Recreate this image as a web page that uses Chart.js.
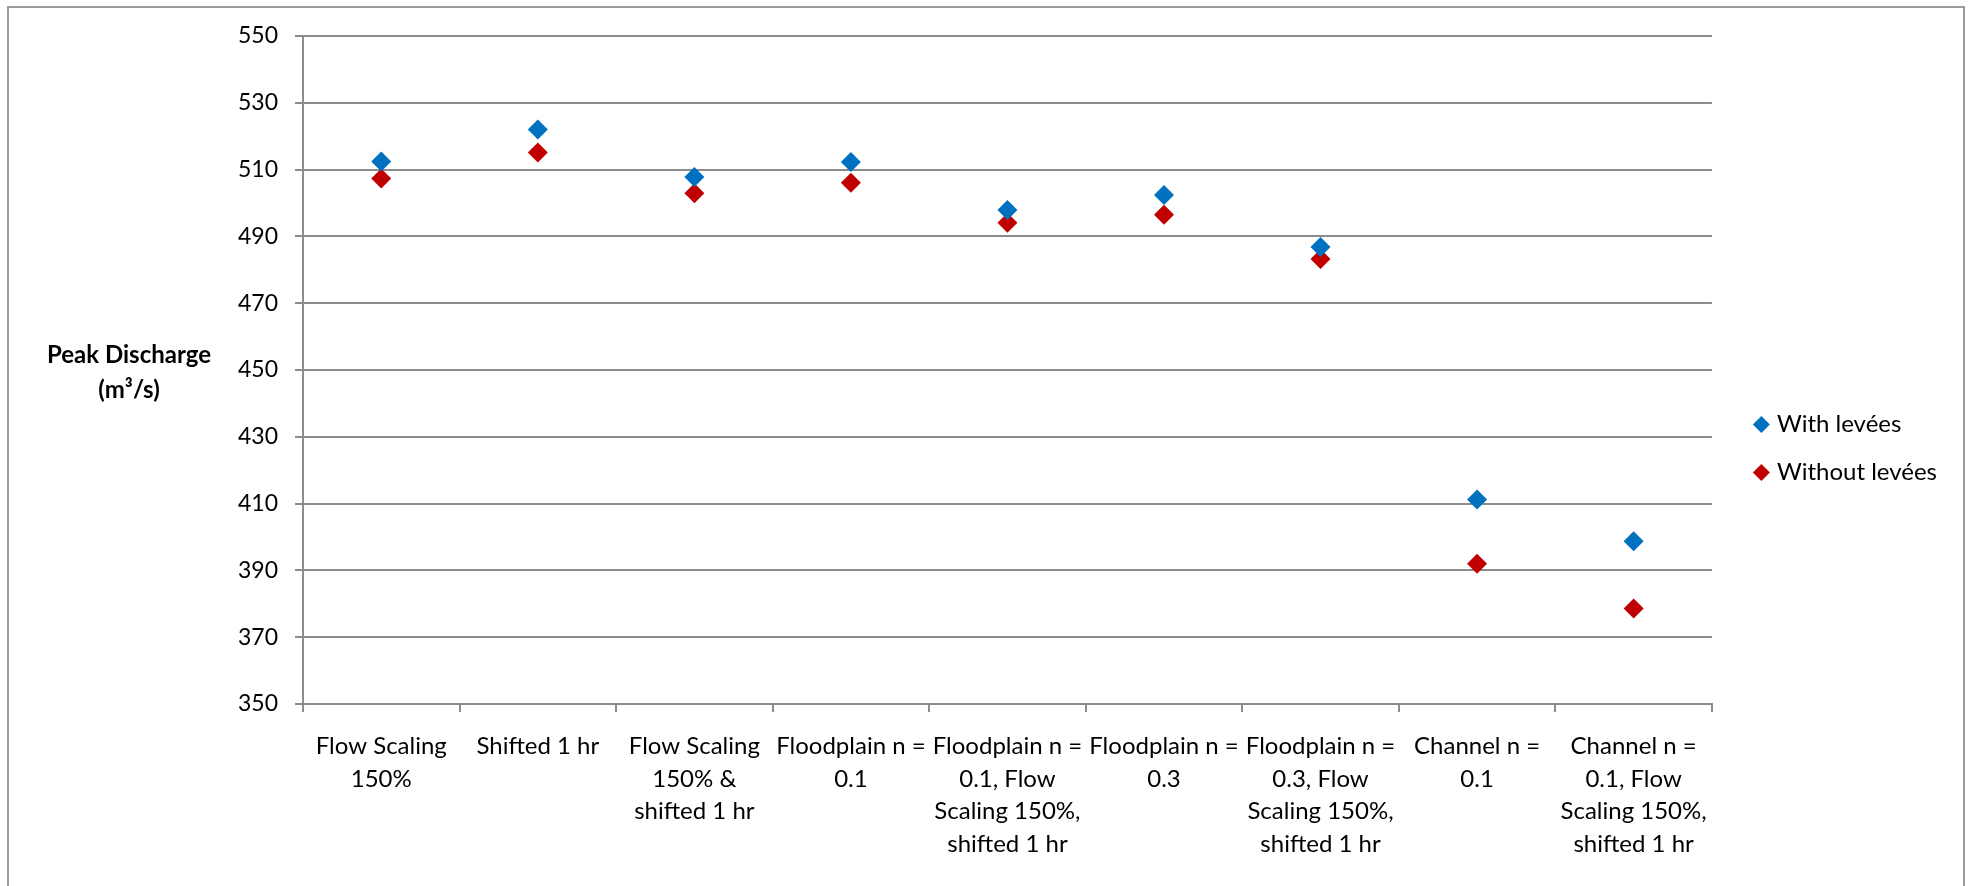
<!DOCTYPE html>
<html>
<head>
<meta charset="utf-8">
<script src="https://cdn.jsdelivr.net/npm/chart.js@4"></script>
<style>
  html, body { margin: 0; padding: 0; background: #fff; }
  #wrap { position: relative; width: 1968px; height: 886px; }
</style>
</head>
<body>
<div id="wrap"><canvas id="chartCanvas" width="1968" height="886"></canvas></div>
<script>
// categories (x axis, wrapped like the original)
const scenarios = [
    ['Flow Scaling', '150%'],
    ['Shifted 1 hr'],
    ['Flow Scaling', '150% &', 'shifted 1 hr'],
    ['Floodplain n =', '0.1'],
    ['Floodplain n =', '0.1, Flow', 'Scaling 150%,', 'shifted 1 hr'],
    ['Floodplain n =', '0.3'],
    ['Floodplain n =', '0.3, Flow', 'Scaling 150%,', 'shifted 1 hr'],
    ['Channel n =', '0.1'],
    ['Channel n =', '0.1, Flow', 'Scaling 150%,', 'shifted 1 hr']
];

// peak discharge, m3/s
const withLevees = [512.4, 522.0, 507.8, 512.3, 497.9, 502.4, 486.8, 411.2, 398.7];
const withoutLevees = [507.3, 515.1, 502.9, 506.1, 494.1, 496.5, 483.2, 392.0, 378.6];

const yMin = 350;
const yMax = 550;
const yStep = 20;

const FONT = 'Lato, "Open Sans", sans-serif';
const GRID = '#8c8c8c';

// horizontal axis title on the left + outer frame, like the Excel original
const decorations = {
    id: 'decorations',
    beforeDraw(chart) {
        const c = chart.ctx;
        c.save();
        c.strokeStyle = '#9c9c9c';
        c.lineWidth = 2;
        c.strokeRect(8, 7, 1956, 900);
        c.restore();
    },
    afterDraw(chart) {
        const c = chart.ctx;
        const area = chart.chartArea;
        const mid = (area.top + area.bottom) / 2;
        c.save();
        c.fillStyle = '#000';
        c.textAlign = 'center';
        c.textBaseline = 'middle';
        c.font = 'bold 24px ' + FONT;
        c.fillText('Peak Discharge', 129, mid - 15);
        c.fillText('(m³/s)', 129, mid + 20);
        c.restore();
    }
};

const ctx = document.getElementById('chartCanvas').getContext('2d');

new Chart(ctx, {
    type: 'line',
    data: {
        labels: scenarios,
        datasets: [
            {
                label: 'With levées',
                data: withLevees,
                showLine: false,
                pointStyle: 'rectRot',
                pointRadius: 10,
                pointHoverRadius: 10,
                backgroundColor: '#0070c0',
                borderColor: '#0070c0',
                pointBorderWidth: 0
            },
            {
                label: 'Without levées',
                data: withoutLevees,
                showLine: false,
                pointStyle: 'rectRot',
                pointRadius: 10,
                pointHoverRadius: 10,
                backgroundColor: '#c00000',
                borderColor: '#c00000',
                pointBorderWidth: 0
            }
        ]
    },
    options: {
        responsive: false,
        animation: false,
        layout: { padding: { top: 36, right: 21, bottom: 25, left: 0 } },
        plugins: {
            tooltip: { enabled: false },
            legend: {
                position: 'right',
                align: 'center',
                labels: {
                    usePointStyle: true,
                    pointStyle: 'rectRot',
                    boxWidth: 7,
                    boxHeight: 12,
                    padding: 24,
                    color: '#000',
                    font: { family: FONT, size: 24 }
                }
            }
        },
        scales: {
            x: {
                type: 'category',
                offset: true,
                afterFit(scale) { scale.height = 157; },
                grid: {
                    offset: true,
                    drawOnChartArea: false,
                    drawTicks: true,
                    tickLength: 8,
                    color: GRID,
                    lineWidth: 2
                },
                border: { color: GRID, width: 2 },
                ticks: {
                    autoSkip: false,
                    maxRotation: 0,
                    minRotation: 0,
                    padding: 18,
                    color: '#000',
                    font: { family: FONT, size: 24, lineHeight: 1.36 }
                }
            },
            y: {
                min: yMin,
                max: yMax,
                afterFit(scale) { scale.width = 303; },
                grid: {
                    color: GRID,
                    lineWidth: 2,
                    tickLength: 8
                },
                border: { color: GRID, width: 2 },
                ticks: {
                    stepSize: yStep,
                    padding: 17,
                    color: '#000',
                    font: { family: FONT, size: 23 }
                }
            },
            // empty spacer between the plot and the legend
            gap: {
                type: 'linear',
                position: 'right',
                afterFit(scale) { scale.width = 22; },
                grid: { display: false },
                border: { display: false },
                ticks: { display: false }
            }
        }
    },
    plugins: [decorations]
});
</script>
</body>
</html>
